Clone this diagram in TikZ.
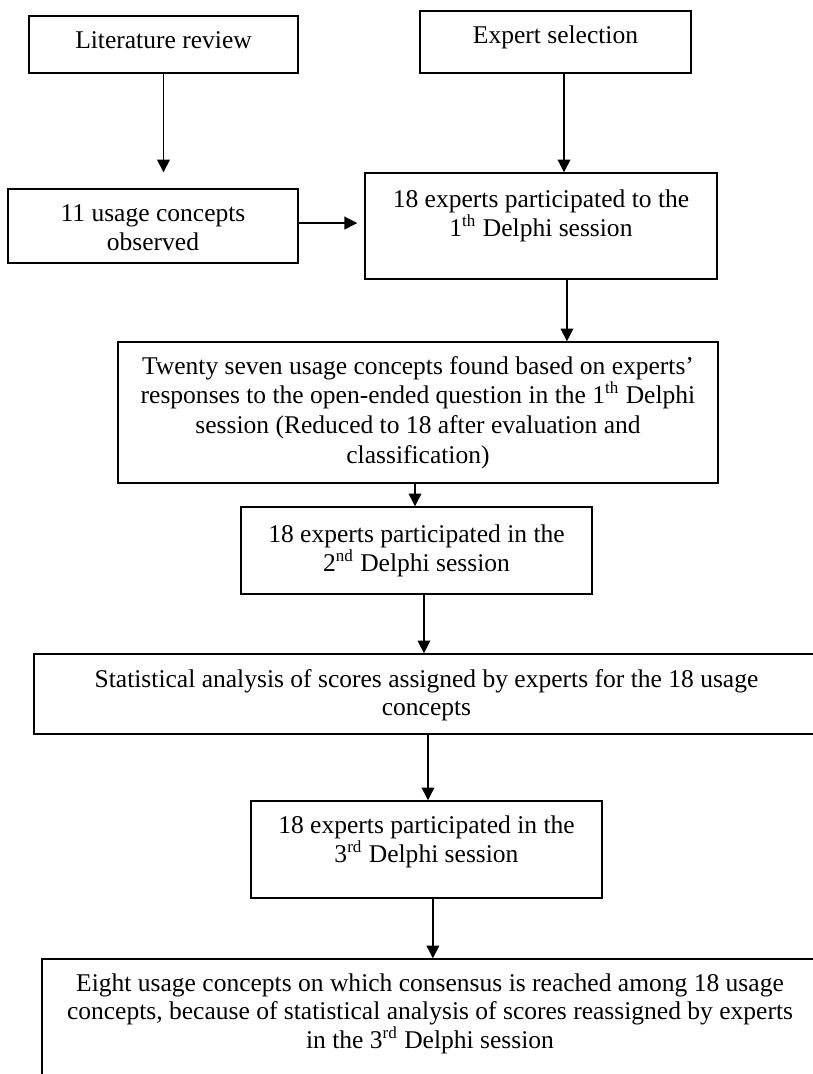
\documentclass[tikz,border=0pt]{standalone}
\usepackage{fontspec}
\setmainfont{Liberation Serif}
\usetikzlibrary{arrows.meta}
\tikzset{
  bx/.style 2 args={draw=black, line width=0.7pt, rectangle, inner sep=0pt,
    minimum width=#1*0.47pt, minimum height=#2*0.47pt},
  ln/.style={anchor=base, inner sep=0pt, font=\fontsize{12}{14}\selectfont},
  arr/.style={draw=black, line width=0.65pt, -{Triangle[length=6pt,width=6pt]}}
}
\begin{document}
\begin{tikzpicture}[x=0.47pt,y=-0.47pt]
\useasboundingbox (0,0) rectangle (812,1074);
% boxes
\node[bx={269}{57}]  (lit) at (163.5,44.5) {};
\node[bx={271}{62}]  (exp) at (555.5,42) {};
\node[bx={290}{74}]  (u11) at (153,226) {};
\node[bx={352}{106}] (e1)  at (541,226) {};
\node[bx={600}{141}] (tw)  at (418,412.5) {};
\node[bx={351}{87}]  (n2)  at (416.5,550.5) {};
\node[bx={785}{80}]  (st)  at (426.5,694) {};
\node[bx={351}{97}]  (n3)  at (426.5,849.5) {};
\node[bx={776}{131}] (fin) at (430,1024.5) {};
% texts
\node[ln] (tlit) at (163.5,48) {Literature review};
\node[ln] (texp) at (555.5,43) {Expert selection};
\node[ln] (tu1) at (153,221) {11 usage concepts};
\node[ln] (tu2) at (153,250) {observed};
\node[ln] (te1) at (541,207) {18 experts participated to the};
\node[ln] (te2) at (541,236) {1\textsuperscript{th} Delphi session};
\node[ln] (tw1) at (418,374) {Twenty seven usage concepts found based on experts’};
\node[ln] (tw2) at (418,403) {responses to the open-ended question in the 1\textsuperscript{th} Delphi};
\node[ln] (tw3) at (418,433) {session (Reduced to 18 after evaluation and};
\node[ln] (tw4) at (418,463) {classification)};
\node[ln] (tn21) at (416.5,542) {18 experts participated in the};
\node[ln] (tn22) at (416.5,571) {2\textsuperscript{nd} Delphi session};
\node[ln] (ts1) at (426.5,687) {Statistical analysis of scores assigned by experts for the 18 usage};
\node[ln] (ts2) at (426.5,715) {concepts};
\node[ln] (tn31) at (426.5,833) {18 experts participated in the};
\node[ln] (tn32) at (426.5,862) {3\textsuperscript{rd} Delphi session};
\node[ln] (tf1) at (430,991) {Eight usage concepts on which consensus is reached among 18 usage};
\node[ln] (tf2) at (430,1019) {concepts, because of statistical analysis of scores reassigned by experts};
\node[ln] (tf3) at (430,1048) {in the 3\textsuperscript{rd} Delphi session};
% connectors
\draw[arr, shorten >=7.5pt] (lit.south) -- (lit.south |- u11.north);
\draw[arr] ([xshift=4pt]exp.south) -- ([xshift=4pt]exp.south |- e1.north);
\draw[arr, shorten >=3.3pt] ([yshift=1.4pt]u11.east) -- ([yshift=1.4pt]u11.east -| e1.west);
\draw[arr] ([xshift=12.2pt]e1.south) -- ([xshift=12.2pt]e1.south |- tw.north);
\draw[arr] ([xshift=-0.7pt]n2.north |- tw.south) -- ([xshift=-0.7pt]n2.north);
\draw[arr] ([xshift=3.5pt]n2.south) -- ([xshift=3.5pt]n2.south |- st.north);
\draw[arr] ([xshift=0.7pt]n3.north |- st.south) -- ([xshift=0.7pt]n3.north);
\draw[arr] ([xshift=3pt]n3.south) -- ([xshift=3pt]n3.south |- fin.north);
\end{tikzpicture}
\end{document}
